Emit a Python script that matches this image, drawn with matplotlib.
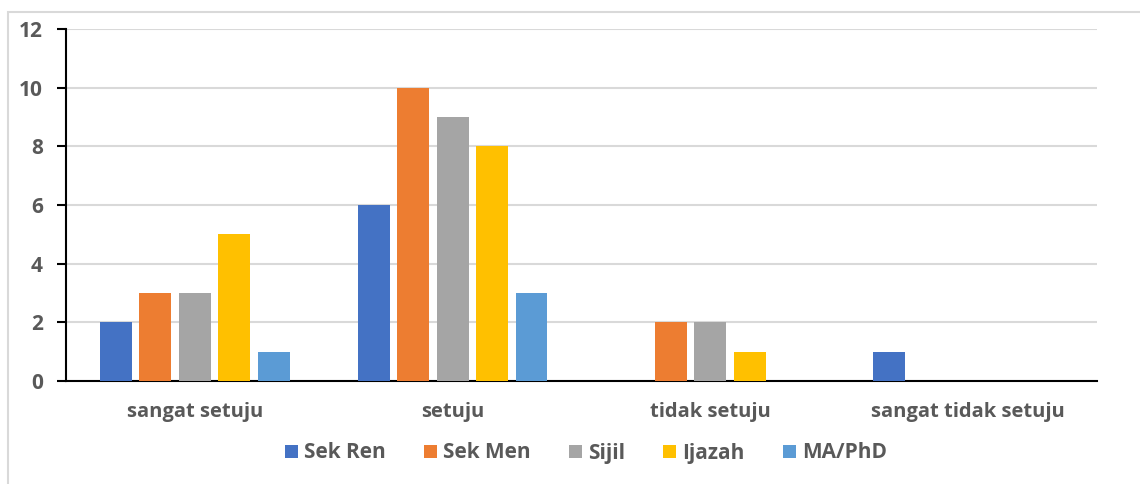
import matplotlib.pyplot as plt
from matplotlib.patches import Rectangle
import numpy as np

# data
categories = ['sangat setuju', 'setuju', 'tidak setuju', 'sangat tidak setuju']
series = ['Sek Ren', 'Sek Men', 'Sijil', 'Ijazah', 'MA/PhD']
sek_ren = [2, 6, 0, 1]
sek_men = [3, 10, 2, 0]
sijil = [3, 9, 2, 0]
ijazah = [5, 8, 1, 0]
ma_phd = [1, 3, 0, 0]
colors = ['#4472C4', '#ED7D31', '#A5A5A5', '#FFC000', '#5B9BD5']

plt.rcParams['font.family'] = ['Open Sans', 'DejaVu Sans']
text_color = '#595959'

fig = plt.figure(figsize=(11.4, 4.84), dpi=100)
ax = fig.add_axes([66 / 1140, 1 - 381 / 484, (1097 - 66) / 1140, (381 - 29) / 484])

# outer chart border
fig.patches.append(Rectangle((8 / 1140, -0.1), 1.2, 1 - 12 / 484 + 0.1,
                             transform=fig.transFigure, fill=False,
                             edgecolor='#D9D9D9', linewidth=1.5))

x = np.arange(len(categories))
slot = 0.153
width = 0.124
for i, (name, vals) in enumerate(zip(series, [sek_ren, sek_men, sijil, ijazah, ma_phd])):
    ax.bar(x + (i - 2) * slot, vals, width, color=colors[i], label=name, zorder=3)

ax.set_xlim(-0.5, 3.5)
ax.set_ylim(0, 12)
ax.set_yticks(range(0, 13, 2))
ax.yaxis.grid(True, color='#D9D9D9', linewidth=1.5, zorder=0)
ax.set_axisbelow(True)

for s in ['top', 'right']:
    ax.spines[s].set_visible(False)
ax.spines['left'].set_color('black')
ax.spines['left'].set_linewidth(1.5)
ax.spines['bottom'].set_color('black')
ax.spines['bottom'].set_linewidth(1.5)

ax.set_xticks(x)
ax.set_xticklabels(categories, fontsize=14.5, fontweight='bold', color=text_color)
ax.tick_params(axis='x', length=0, pad=15)
ax.tick_params(axis='y', length=6.5, width=1.5, direction='out', labelsize=15,
               labelcolor=text_color, pad=10)
for lbl in ax.get_yticklabels():
    lbl.set_fontweight('bold')

leg = fig.legend(loc='center', bbox_to_anchor=(586 / 1140, 1 - 453 / 484), ncol=5,
                 frameon=False, fontsize=15, handlelength=0.6, handleheight=0.6,
                 handletextpad=0.3, columnspacing=1.85)
for t in leg.get_texts():
    t.set_color(text_color)
    t.set_fontweight('bold')

fig.savefig('out.png', dpi=100)
